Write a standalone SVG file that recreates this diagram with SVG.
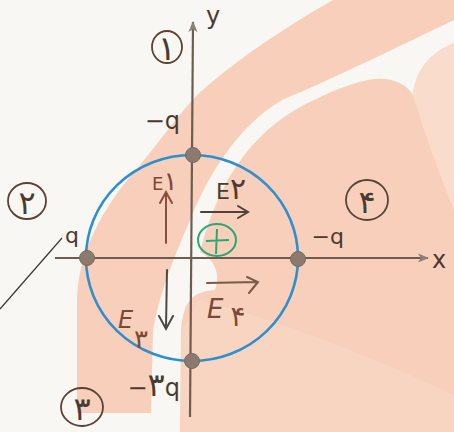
<svg xmlns="http://www.w3.org/2000/svg" width="454" height="432" viewBox="0 0 454 432">
<defs>
<style>
.lbl{font-family:"DejaVu Sans","Noto Sans",sans-serif;fill:#4a3a30;}
.elbl{font-family:"DejaVu Sans","Noto Sans",sans-serif;fill:#7a4a38;}
.tag{fill:none;stroke:#5a4234;stroke-width:1.8;}
.dig{font-family:"DejaVu Sans","Noto Sans",sans-serif;fill:#4a3a30;text-anchor:middle;}
.charge{fill:#8a7b6e;stroke:#7a6a5e;stroke-width:1;}
.axis{stroke:#6e5c50;stroke-width:2.2;fill:none;}
.vec{stroke-width:2;fill:none;stroke-linecap:round;}
</style>
<marker id="axhead" viewBox="0 0 12 10" refX="11" refY="5" markerWidth="5" markerHeight="4.5" orient="auto" markerUnits="strokeWidth">
<path d="M0,0 L12,5 L0,10 L3,5 Z" fill="#8a817a"/>
</marker>
</defs>
<rect width="454" height="432" fill="#f9f7f3"/>
<g id="watermark">
<path d="M77,413 L77,300 C78,255 100,210 140,165 C165,135 185,105 205,88 C235,62 280,30 333,0 L454,0 L454,20 C400,46 330,80 282,100 C240,125 210,170 190,220 C175,255 160,290 153,330 L151,413 Z" fill="#f7cfba"/>
<path d="M180,432 L181,330 C184,300 192,292 215,290 C222,272 212,258 200,252 C206,228 216,200 230,176 C248,147 268,126 295,110 C322,95 345,85 368,80 C388,76 405,82 413,95 C415,75 425,55 454,43 L454,432 Z" fill="#f7cfba"/>
<path d="M413,95 C415,75 425,55 454,43 L454,210 C440,175 425,135 413,95 Z" fill="#fadccc"/>
<path d="M200,300 C280,320 380,360 454,395 L454,432 L181,432 L181,330 Z" fill="#f9d8c6" opacity="0.6"/>
</g>
<g id="connectors">
<line class="axis" x1="190" y1="417" x2="193" y2="22" marker-end="url(#axhead)"/>
<line class="axis" x1="55" y1="258" x2="428" y2="258" marker-end="url(#axhead)"/>
<line x1="62" y1="238" x2="0" y2="309" stroke="#3a3430" stroke-width="1.2"/>
<g id="vec-E1"><path class="vec" stroke="#8a4e3c" d="M166,243 L166,194 M160,203 L166,192 L172,203"/></g>
<g id="vec-E2"><path class="vec" stroke="#4e423c" d="M201,212 L247,212 M238,206 L248,212 L238,218"/></g>
<g id="vec-E3"><path class="vec" stroke="#4e4844" d="M167,270 L166,327 M159,316 L166,329 L173,316"/></g>
<g id="vec-E4"><path class="vec" stroke="#7a5a48" d="M207,283 L257,282 M247,277 L258,282 L249,293"/></g>
</g>
<g id="circle-path"><ellipse cx="192" cy="258" rx="106" ry="103" fill="none" stroke="#2e8fcf" stroke-width="2.6"/></g>
<g id="charge-top"><circle class="charge" cx="193" cy="155" r="7.5"/><text class="lbl" x="180" y="129" font-size="24" text-anchor="end">−q</text></g>
<g id="charge-left"><circle class="charge" cx="87" cy="258" r="7.5"/><text class="lbl" x="79" y="243" font-size="22" text-anchor="end">q</text></g>
<g id="charge-right"><circle class="charge" cx="298" cy="259" r="7.5"/><text class="lbl" x="344" y="244" font-size="22" text-anchor="end">−q</text></g>
<g id="charge-bottom"><circle class="charge" cx="192" cy="361" r="7.5"/><text class="lbl" x="180" y="396" font-size="24" text-anchor="end">−<tspan font-size="32">۳</tspan>q</text></g>
<g id="label-y"><text class="lbl" x="206" y="24" font-size="24" fill="#55504c">y</text></g>
<g id="label-x"><text class="lbl" x="432" y="268" font-size="24" fill="#55504c">x</text></g>
<g id="region-1"><ellipse class="tag" cx="167" cy="47" rx="15" ry="16"/><text class="dig" x="167" y="60" font-size="34">۱</text></g>
<g id="region-2"><ellipse class="tag" cx="27" cy="201" rx="19" ry="18"/><text class="dig" x="27" y="214" font-size="32">۲</text></g>
<g id="region-3"><ellipse class="tag" cx="82" cy="407" rx="21" ry="19"/><text class="dig" x="82" y="420" font-size="32">۳</text></g>
<g id="region-4"><ellipse class="tag" cx="367" cy="200" rx="21" ry="20"/><text class="dig" x="367" y="213" font-size="32">۴</text></g>
<g id="test-charge"><ellipse cx="217" cy="240" rx="19" ry="16" fill="none" stroke="#2aa874" stroke-width="2"/><path d="M217,229 L216,254 M206,241 L229,240" stroke="#2aa874" stroke-width="2" fill="none"/></g>
<g id="label-E1"><text class="elbl" x="152" y="190" font-size="18">E<tspan font-size="26">۱</tspan></text></g>
<g id="label-E2"><text class="lbl" x="216" y="199" font-size="22">E<tspan font-size="30">۲</tspan></text></g>
<g id="label-E3"><text class="elbl" x="118" y="328" font-size="24" font-style="italic">E</text><text class="elbl" x="141" y="348" font-size="26" text-anchor="middle">۳</text></g>
<g id="label-E4"><text class="elbl" x="207" y="318" font-size="26" font-style="italic">E</text><text class="elbl" x="238" y="326" font-size="28" text-anchor="middle">۴</text></g>
</svg>
